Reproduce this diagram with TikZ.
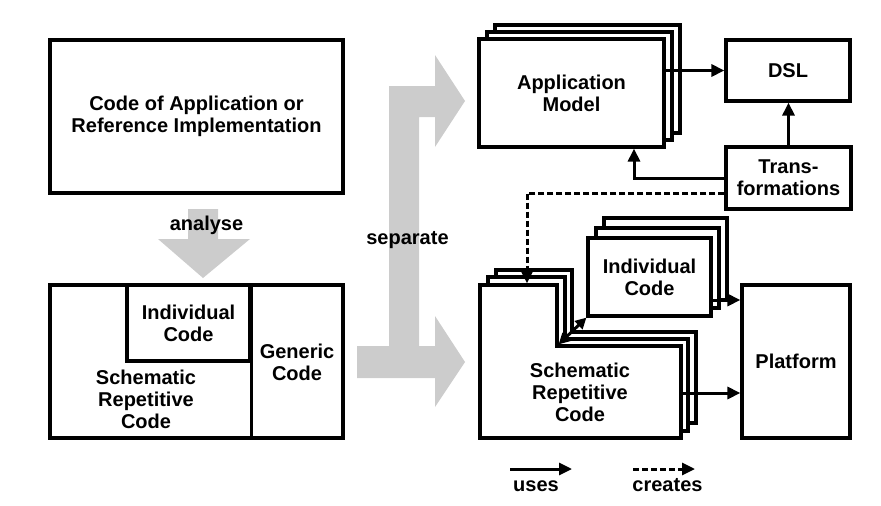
\documentclass[tikz,border=0pt]{standalone}
\usepackage{fontspec}
\setmainfont{Liberation Sans}
\usetikzlibrary{arrows.meta,calc}
\definecolor{sepgray}{RGB}{204,204,204}
\begin{document}
\begin{tikzpicture}[x=1pt,y=-1pt,
  txt/.style={font=\bfseries\fontsize{20}{22}\selectfont, align=center, inner sep=0pt},
  box/.style={txt, draw, line width=3.2pt, fill=white},
  dims/.style 2 args={minimum width=#1pt, minimum height=#2pt},
  lay/.style={draw, fill=white, line width=3.2pt},
  arr/.style={line width=3pt, -{Triangle[length=13pt,width=12pt]}},
  dasharr/.style={arr, dash pattern=on 6pt off 3pt},
  dblarr/.style={line width=3pt, {Triangle[length=11pt,width=11pt]}-{Triangle[length=11pt,width=11pt]}},
  bigarrow/.style={fill=sepgray}
]
\useasboundingbox (0,0) rectangle (881,506);

% ---- left column ----
\node[box, dims={293}{153}] (codeapp) at (196.5,116.5) {Code of Application or\\Reference Implementation};

\fill[bigarrow] (188,209) -- (218,209) -- (218,239) -- (250,239) -- (203,278) -- (158,239) -- (188,239) -- cycle;
\node[txt] (analyse) at (206.5,225.5) {analyse};

\node[box, dims={293}{153}] (blbox) at (196.5,361.5) {};
\node[box, dims={123}{76}] (blind) at (188.5,323) {Individual\\Code};
\draw[line width=3.2pt] (blind.north east) -- (blind.north east |- blbox.south);
\node[txt] (generic) at (297,362) {Generic\\Code};
\node[txt] (blschem) at (146,399) {Schematic\\Repetitive\\Code};

% ---- separate arrow ----
\fill[bigarrow] (357,346) -- (389,346) -- (389,86) -- (435,86) -- (435,55) -- (465,101)
  -- (435,147) -- (435,117) -- (419,117) -- (419,346) -- (435,346) -- (435,316)
  -- (465,362) -- (435,407) -- (435,378) -- (357,378) -- cycle;
\node[txt] (separate) at (407.5,240) {separate};

% ---- application model stack ----
\node[box, dims={185}{108}] (appback) at (587.5,79) {};
\node[box, dims={185}{108}] (appmid) at (579.5,86) {};
\node[box, dims={185}{108}] (appfront) at (571.5,93) {Application\\Model};

\node[box, dims={124}{61}] (dsl) at (788,70.5) {DSL};
\node[box, dims={125}{62}] (trans) at (788.5,178) {Trans-\\formations};
\node[box, dims={108}{153}] (platform) at (796,361.5) {Platform};

% ---- schematic repetitive code stack ----
\filldraw[lay] (496,270) -- (572,270) -- (572,332) -- (696,332) -- (696,423) -- (496,423) -- cycle;
\filldraw[lay] (488,277) -- (565,277) -- (565,339) -- (688,339) -- (688,431) -- (488,431) -- cycle;
\filldraw[lay] (480,285) -- (557,285) -- (557,346) -- (681,346) -- (681,438) -- (480,438) -- cycle;
\node[txt] (schtext) at (580,392) {Schematic\\Repetitive\\Code};
\coordinate (schcorner) at (558.6,344.4);
\coordinate (schin) at (527,283.4);
\coordinate (schout) at (681,393);

% ---- individual code stack ----
\node[box, dims={123}{82}] (indback) at (665.5,259) {};
\node[box, dims={123}{80}] (indmid) at (657.5,268) {};
\node[box, dims={123}{78}] (indfront) at (649.5,277) {Individual\\Code};
\coordinate (indout) at (711,300);

% ---- connectors ----
\draw[arr] (appfront.east |- dsl.west) -- (dsl.west);
\draw[arr] (trans.north) -- (trans.north |- dsl.south);
\coordinate (appin) at (634,148.6);
\draw[arr] (trans.west) -| (appin);
\draw[dasharr] ([shift={(0,15)}]trans.west) -| (schin);
\draw[arr] (indout) -- (indout -| platform.west);
\draw[arr] (schout) -- (schout -| platform.west);
\draw[dblarr] (schcorner) -- (indfront.south west);

% ---- legend ----
\coordinate (u1) at (510,469);
\coordinate (u2) at (572,469);
\draw[arr] (u1) -- (u2);
\node[txt, anchor=base] (uses) at (536,491.5) {uses};
\coordinate (c1) at (633,469);
\coordinate (c2) at (695,469);
\draw[dasharr] (c1) -- (c2);
\node[txt, anchor=base] (creates) at (667.5,491.5) {creates};
\end{tikzpicture}
\end{document}
